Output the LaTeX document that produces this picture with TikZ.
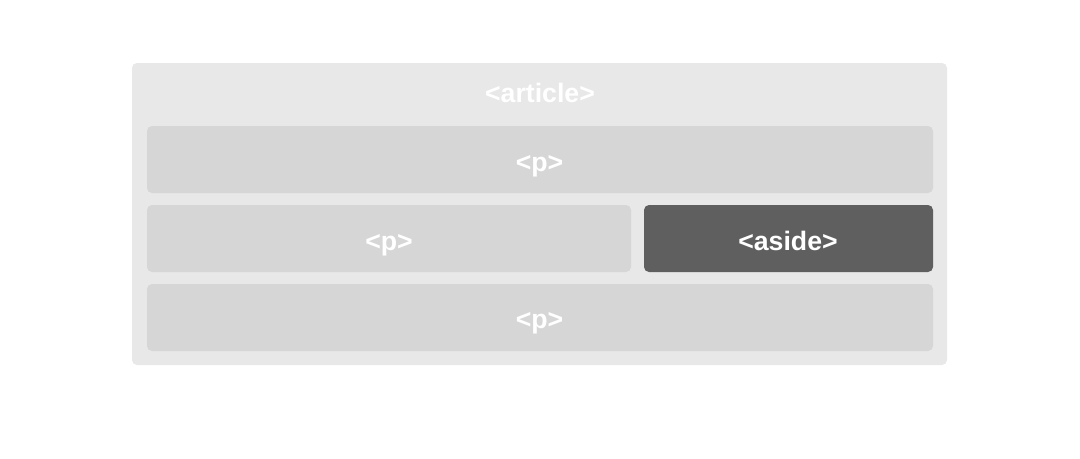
\documentclass[tikz,border=0pt]{standalone}
\usepackage{fontspec}
\setmainfont{Liberation Sans}
\definecolor{outerbg}{HTML}{E8E8E8}
\definecolor{innerbg}{HTML}{D6D6D6}
\definecolor{asidebg}{HTML}{5F5F5F}
\begin{document}
\begin{tikzpicture}[x=0.75pt,y=-0.75pt,
  box/.style={rounded corners=3.75pt,fill=#1,draw=none},
  lbl/.style={text=white,font=\fontsize{20pt}{23pt}\selectfont\bfseries,anchor=base,inner sep=0pt}]
\useasboundingbox (0,0) rectangle (1080,458);
\fill[white] (0,0) rectangle (1080,458);
\path[box=outerbg] (132,63) rectangle (947,365);
\path[box=innerbg] (147,126) rectangle (933,193);
\path[box=innerbg] (147,205) rectangle (631,272);
\path[box=asidebg] (644,205) rectangle (933,272);
\path[box=innerbg] (147,284) rectangle (933,351);
\node[lbl] (article) at (540,102.5) {<article>};
\node[lbl] (p1) at (539.5,171.5) {<p>};
\node[lbl] (p2) at (389,250) {<p>};
\node[lbl] (aside) at (788,250) {<aside>};
\node[lbl] (p3) at (539.5,328) {<p>};
\end{tikzpicture}
\end{document}
